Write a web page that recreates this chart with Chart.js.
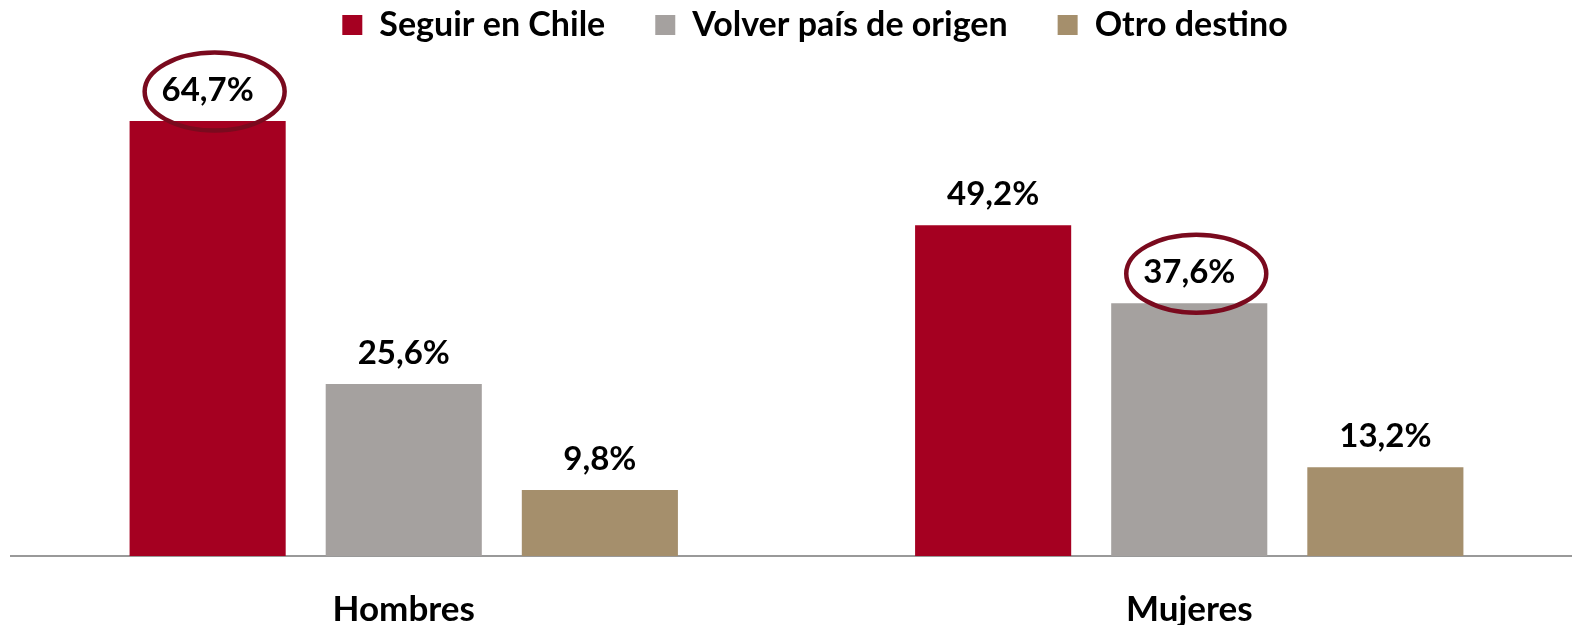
<!DOCTYPE html>
<html>
<head>
<meta charset="utf-8">
<script src="https://cdn.jsdelivr.net/npm/chart.js@4.4.1/dist/chart.umd.min.js"></script>
<style>
  html, body { margin: 0; padding: 0; background: #fff; overflow: hidden; }
  #wrap { width: 1619px; height: 625px; position: relative; }
</style>
</head>
<body>
<div id="wrap"><canvas id="grafico"></canvas></div>
<script>
const categorias = ['Hombres', 'Mujeres']
const seguirChile = [64.7, 49.2]
const volverOrigen = [25.6, 37.6]
const otroDestino = [9.8, 13.2]
const series = ['Seguir en Chile', 'Volver país de origen', 'Otro destino']
// serie destacada con elipse en cada categoría
const destacados = [0, 1]
const colores = ['#a50021', '#a5a19f', '#a58f6c']

const FUENTE = 'Lato, "Open Sans", sans-serif'

const formato = v => v.toFixed(1).replace('.', ',') + '%'

// etiquetas sobre cada barra
const etiquetas = {
    id: 'etiquetas',
    afterDatasetsDraw(chart) {
        const ctx = chart.ctx
        ctx.save()
        ctx.font = 'bold 33px ' + FUENTE
        ctx.fillStyle = '#000'
        ctx.textAlign = 'center'
        ctx.textBaseline = 'middle'
        chart.data.datasets.forEach((ds, i) => {
            chart.getDatasetMeta(i).data.forEach((bar, j) => {
                ctx.fillText(formato(ds.data[j]), bar.x, bar.y - 31)
            })
        })
        ctx.restore()
    }
}

// elipse alrededor del valor destacado
const elipses = {
    id: 'elipses',
    afterDatasetsDraw(chart) {
        const ctx = chart.ctx
        ctx.save()
        ctx.strokeStyle = '#7a0a1e'
        ctx.lineWidth = 4.5
        destacados.forEach((i, j) => {
            const bar = chart.getDatasetMeta(i).data[j]
            ctx.beginPath()
            ctx.ellipse(bar.x + 7, bar.y - 29.5, 70, 39, 0, 0, Math.PI * 2)
            ctx.stroke()
        })
        ctx.restore()
    }
}

const ctx = document.getElementById('grafico').getContext('2d')
const chart = new Chart(ctx, {
    type: 'bar',
    data: {
        labels: categorias,
        datasets: [
            { label: series[0], data: seguirChile, backgroundColor: colores[0], borderWidth: 0 },
            { label: series[1], data: volverOrigen, backgroundColor: colores[1], borderWidth: 0 },
            { label: series[2], data: otroDestino, backgroundColor: colores[2], borderWidth: 0 }
        ]
    },
    options: {
        responsive: true,
        maintainAspectRatio: false,
        animation: false,
        categoryPercentage: 0.749,
        barPercentage: 0.796,
        layout: { padding: { top: -42, left: 11, right: 0, bottom: 0 } },
        plugins: {
            tooltip: { enabled: false },
            legend: {
                position: 'top',
                labels: {
                    boxWidth: 20,
                    boxHeight: 20,
                    padding: 50,
                    color: '#000',
                    font: { family: FUENTE, size: 34, weight: 'bold' }
                }
            }
        },
        scales: {
            x: {
                grid: { display: false },
                border: { display: true, color: '#999999', width: 2 },
                ticks: {
                    color: '#000',
                    padding: 25,
                    font: { family: FUENTE, size: 35, weight: 'bold' }
                },
                afterFit(s) { s.height = 69 }
            },
            y: {
                position: 'right',
                min: 0,
                max: 74.97,
                grid: { display: false },
                border: { display: false },
                ticks: { display: false },
                afterFit(s) { s.width = 37 }
            }
        }
    },
    plugins: [etiquetas, elipses]
})
</script>
</body>
</html>
